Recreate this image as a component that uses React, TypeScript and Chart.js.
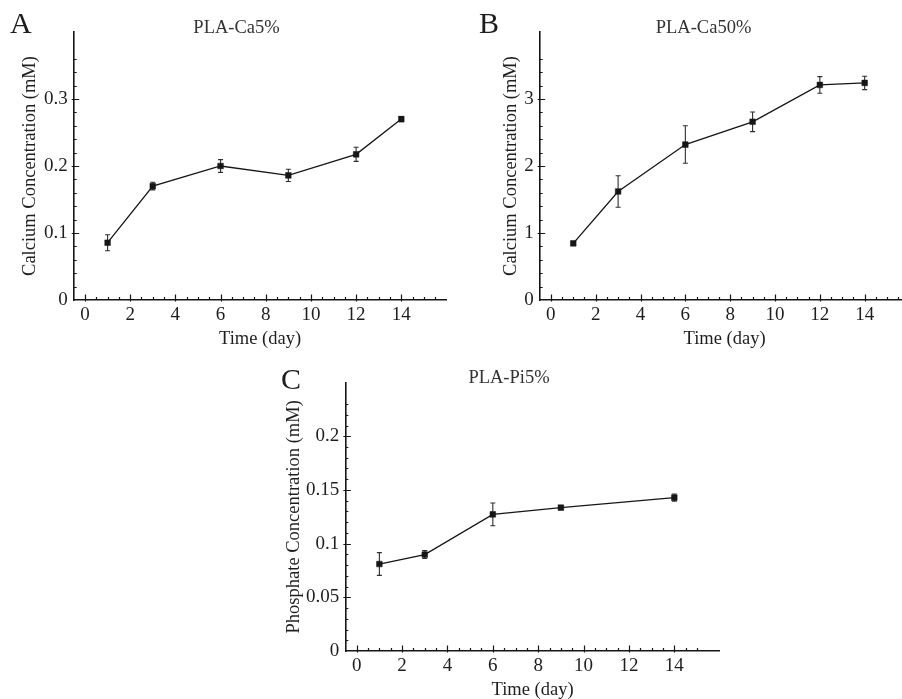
import React, { useEffect, useRef } from 'react';
import { Chart, registerables } from 'chart.js';

Chart.register(...registerables);

const FONT = '"Liberation Serif", "Times New Roman", serif';

// Panel A: PLA-Ca5%
const DAYS_A = [1, 3, 6, 9, 12, 14];
const CA5_MEAN = [0.0855, 0.170, 0.200, 0.186, 0.2174, 0.270];
const CA5_SD = [0.012, 0.0057, 0.0095, 0.0092, 0.0105, 0.0037];

// Panel B: PLA-Ca50%
const DAYS_B = [1, 3, 6, 9, 12, 14];
const CA50_MEAN = [0.846, 1.62, 2.32, 2.66, 3.21, 3.24];
const CA50_SD = [0, 0.235, 0.28, 0.147, 0.124, 0.1];

// Panel C: PLA-Pi5%
const DAYS_C = [1, 3, 6, 9, 14];
const PI5_MEAN = [0.081, 0.0898, 0.1273, 0.1335, 0.1429];
const PI5_SD = [0.0106, 0.0037, 0.0106, 0.0012, 0.0033];

// Tick labels
const X_TICKS = [0, 2, 4, 6, 8, 10, 12, 14];
const Y_TICKS_A = [0, 0.1, 0.2, 0.3];
const Y_TICKS_B = [0, 1, 2, 3];
const Y_TICKS_C = [0, 0.05, 0.1, 0.15, 0.2];

const X_LABEL = 'Time (day)';

type PanelCfg = {
  letter: string;
  title: string;
  yLabel: string;
  xs: number[];
  ys: number[];
  errs: number[];
  yTicks: number[];
  yMax: number;
  yMinorStep: number;
  yMinorMax: number;
  xMinorMax: number;
  box: { left: number; top: number; width: number; height: number };
  yAxisWidth: number;
  padTop: number;
  padRight: number;
  yTitlePad: number;
  titlePos: { x: number; y: number };
  letterPos: { x: number; y: number };
};

const PANELS: PanelCfg[] = [
  {
    letter: 'A',
    title: 'PLA-Ca5%',
    yLabel: 'Calcium Concentration (mM)',
    xs: DAYS_A,
    ys: CA5_MEAN,
    errs: CA5_SD,
    yTicks: Y_TICKS_A,
    yMax: 0.4,
    yMinorStep: 0.02,
    yMinorMax: 0.36,
    xMinorMax: 15.5,
    box: { left: 0, top: 0, width: 451, height: 350 },
    yAxisWidth: 73.7,
    padTop: 32,
    padRight: 3.4,
    yTitlePad: 18.9,
    titlePos: { x: 236.5, y: 28 },
    letterPos: { x: 10, y: 33 },
  },
  {
    letter: 'B',
    title: 'PLA-Ca50%',
    yLabel: 'Calcium Concentration (mM)',
    xs: DAYS_B,
    ys: CA50_MEAN,
    errs: CA50_SD,
    yTicks: Y_TICKS_B,
    yMax: 4,
    yMinorStep: 0.2,
    yMinorMax: 3.6,
    xMinorMax: 15.5,
    box: { left: 451, top: 0, width: 463, height: 350 },
    yAxisWidth: 88.65,
    padTop: 32,
    padRight: 0,
    yTitlePad: 49.4,
    titlePos: { x: 252.5, y: 28 },
    letterPos: { x: 28, y: 33 },
  },
  {
    letter: 'C',
    title: 'PLA-Pi5%',
    yLabel: 'Phosphate Concentration (mM)',
    xs: DAYS_C,
    ys: PI5_MEAN,
    errs: PI5_SD,
    yTicks: Y_TICKS_C,
    yMax: 0.25,
    yMinorStep: 0.01,
    yMinorMax: 0.23,
    xMinorMax: 15,
    box: { left: 250, top: 340, width: 480, height: 361 },
    yAxisWidth: 95.35,
    padTop: 42.6,
    padRight: 10.3,
    yTitlePad: 33.2,
    titlePos: { x: 259, y: 38.5 },
    letterPos: { x: 31, y: 49 },
  },
];

const INK = '#161616';
const TEXT = '#1e1e1e';

function makeConfig(p: PanelCfg): any {
  const errorBars = {
    id: 'errorBars',
    beforeDatasetsDraw(chart: any) {
      const { ctx, scales } = chart;
      const xs = scales.x;
      const ysc = scales.y;
      ctx.save();
      ctx.strokeStyle = '#2e2e2e';
      ctx.lineWidth = 1.1;
      p.xs.forEach((xv, i) => {
        const e = p.errs[i];
        if (!e) return;
        const x = xs.getPixelForValue(xv);
        const yt = ysc.getPixelForValue(p.ys[i] + e);
        const yb = ysc.getPixelForValue(p.ys[i] - e);
        ctx.beginPath();
        ctx.moveTo(x, yt);
        ctx.lineTo(x, yb);
        ctx.moveTo(x - 2.5, yt);
        ctx.lineTo(x + 2.5, yt);
        ctx.moveTo(x - 2.5, yb);
        ctx.lineTo(x + 2.5, yb);
        ctx.stroke();
      });
      ctx.restore();
    },
  };

  const inwardTicks = {
    id: 'inwardTicks',
    afterDraw(chart: any) {
      const { ctx, scales, chartArea } = chart;
      const xs = scales.x;
      const ysc = scales.y;
      const base = chartArea.bottom;
      const left = chartArea.left;
      ctx.save();
      ctx.strokeStyle = INK;
      ctx.lineWidth = 1.2;
      ctx.beginPath();
      // x minor ticks every 0.5 day
      const nx = Math.round(p.xMinorMax / 0.5);
      for (let i = 1; i <= nx; i++) {
        const v = i * 0.5;
        if (X_TICKS.includes(v)) continue;
        const x = Math.round(xs.getPixelForValue(v)) + 0.5;
        ctx.moveTo(x, base);
        ctx.lineTo(x, base - 3);
      }
      X_TICKS.forEach((v) => {
        const x = Math.round(xs.getPixelForValue(v)) + 0.5;
        ctx.moveTo(x, base + 1.5);
        ctx.lineTo(x, base - 5.5);
      });
      // y minor ticks
      const ny = Math.round(p.yMinorMax / p.yMinorStep);
      const majorsPx = p.yTicks.map((v) => Math.round(ysc.getPixelForValue(v)));
      for (let i = 1; i <= ny; i++) {
        const v = i * p.yMinorStep;
        const py = Math.round(ysc.getPixelForValue(v));
        if (majorsPx.includes(py)) continue;
        ctx.moveTo(left, py + 0.5);
        ctx.lineTo(left + 3, py + 0.5);
      }
      p.yTicks.forEach((v) => {
        if (v === 0) return;
        const py = Math.round(ysc.getPixelForValue(v)) + 0.5;
        ctx.moveTo(left - 2, py);
        ctx.lineTo(left + 5.5, py);
      });
      ctx.stroke();

      // panel letter and title
      ctx.fillStyle = TEXT;
      ctx.textAlign = 'left';
      ctx.textBaseline = 'alphabetic';
      ctx.font = `30px ${FONT}`;
      ctx.fillText(p.letter, p.letterPos.x, p.letterPos.y);
      ctx.fillStyle = '#333333';
      ctx.textAlign = 'center';
      ctx.textBaseline = 'middle';
      ctx.font = `18.5px ${FONT}`;
      ctx.fillText(p.title, p.titlePos.x, p.titlePos.y);
      ctx.restore();
    },
  };

  return {
    type: 'line',
    data: {
      datasets: [
        {
          data: p.xs.map((x, i) => ({ x, y: p.ys[i] })),
          borderColor: INK,
          borderWidth: 1.3,
          pointStyle: 'rect',
          pointRadius: 4,
          pointBackgroundColor: INK,
          pointBorderColor: INK,
          pointBorderWidth: 0.5,
          tension: 0,
          fill: false,
        },
      ],
    },
    options: {
      responsive: false,
      animation: false,
      events: [],
      layout: { padding: { left: 0, top: p.padTop, right: p.padRight, bottom: 0 } },
      plugins: {
        legend: { display: false },
        tooltip: { enabled: false },
        title: { display: false },
      },
      scales: {
        x: {
          type: 'linear',
          min: -0.5,
          max: 16,
          grid: { display: false, drawTicks: false },
          border: { display: true, color: INK, width: 1.6 },
          ticks: {
            autoSkip: false,
            maxRotation: 0,
            padding: 3.6,
            color: TEXT,
            font: { family: FONT, size: 19 },
            callback: (v: any) => String(v),
          },
          afterBuildTicks: (s: any) => {
            s.ticks = X_TICKS.map((v) => ({ value: v }));
          },
          afterFit: (s: any) => {
            s.height = 50;
          },
          title: {
            display: true,
            text: X_LABEL,
            color: TEXT,
            font: { family: FONT, size: 18.5 },
            padding: 0,
          },
        },
        y: {
          type: 'linear',
          min: 0,
          max: p.yMax,
          grid: { display: false, drawTicks: false },
          border: { display: true, color: INK, width: 1.6 },
          ticks: {
            autoSkip: false,
            padding: 6,
            color: TEXT,
            font: { family: FONT, size: 19 },
            callback: (v: any) => String(+Number(v).toFixed(4)),
          },
          afterBuildTicks: (s: any) => {
            s.ticks = p.yTicks.map((v) => ({ value: v }));
          },
          afterFit: (s: any) => {
            s.width = p.yAxisWidth;
          },
          title: {
            display: true,
            text: p.yLabel,
            color: TEXT,
            font: { family: FONT, size: 18.5 },
            padding: { top: p.yTitlePad, bottom: 0 },
          },
        },
      },
    },
    plugins: [errorBars, inwardTicks],
  };
}

function PanelChart({ p }: { p: PanelCfg }) {
  const ref = useRef<HTMLCanvasElement>(null);
  useEffect(() => {
    const chart = new Chart(ref.current as HTMLCanvasElement, makeConfig(p));
    return () => chart.destroy();
  }, [p]);
  return (
    <canvas
      ref={ref}
      width={p.box.width}
      height={p.box.height}
      style={{
        position: 'absolute',
        left: p.box.left,
        top: p.box.top,
        width: p.box.width,
        height: p.box.height,
      }}
    />
  );
}

export default function App() {
  return (
    <div
      style={{
        position: 'absolute',
        left: 0,
        top: 0,
        width: 902,
        height: 699,
        overflow: 'hidden',
        background: '#ffffff',
      }}
    >
      {PANELS.map((p) => (
        <PanelChart key={p.letter} p={p} />
      ))}
    </div>
  );
}
